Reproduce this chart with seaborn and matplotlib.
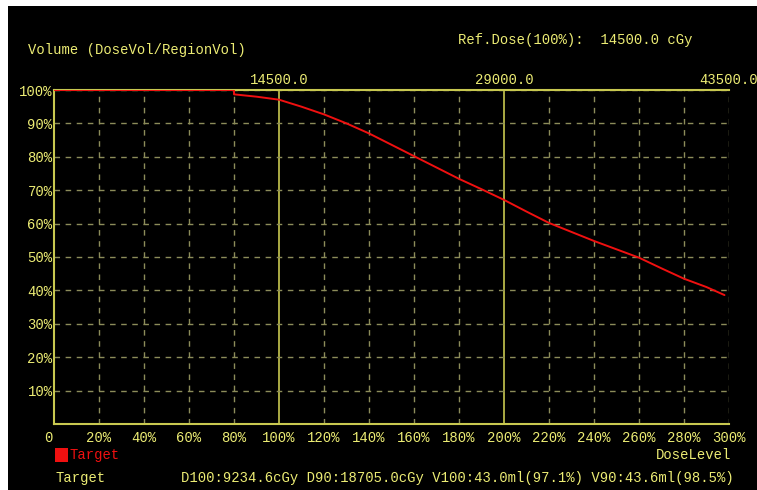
import matplotlib
matplotlib.use("Agg")
import matplotlib.pyplot as plt
from matplotlib.patches import Rectangle
from matplotlib.transforms import ScaledTranslation
import seaborn as sns
import numpy as np

# DVH curve of the target (dose in % of ref dose)
dose_pct = [0, 80, 80, 90, 100, 110, 120, 130, 140, 150, 160, 170, 180, 190,
            200, 210, 220, 230, 240, 250, 260, 270, 280, 290, 298]
volume_pct = [100, 100, 98.7, 98.0, 97.1, 95.0, 92.7, 90.0, 87.0, 83.6, 80.2,
              76.8, 73.4, 70.3, 67.1, 63.6, 60.2, 57.5, 54.8, 52.3, 49.8,
              46.6, 43.5, 41.0, 38.6]

ref_dose = 14500.0
x_ticks = list(range(0, 301, 20))
x_labels = ["0"] + [f"{t}%" for t in x_ticks[1:]]
y_ticks = list(range(10, 101, 10))
y_labels = [f"{t}%" for t in y_ticks]
top_ticks = [100, 200, 300]

stats_text = "D100:9234.6cGy D90:18705.0cGy V100:43.0ml(97.1%) V90:43.6ml(98.5%)"

YELLOW = "#ecec74"
GRID = "#8c8c5a"
SOLID = "#c8c850"
RED = "#f01010"

sns.set_style("dark")
plt.rcParams["font.family"] = ["Liberation Mono", "DejaVu Sans Mono"]

W, H = 757, 490
fig = plt.figure(figsize=(W / 100, H / 100), dpi=100)
fig.patch.set_facecolor("white")
fig.add_artist(Rectangle((8 / W, 0), 1, 1 - 6 / H, transform=fig.transFigure,
                         facecolor="black", edgecolor="none", zorder=0))

ax = fig.add_axes([54 / W, (H - 424) / H, (729 - 54) / W, (424 - 90) / H])
ax.set_facecolor("black")

ax.set_xlim(0, 300)
ax.set_ylim(0, 100)

# dashed grid, solid at 100% and 200%
for t in x_ticks[1:]:
    if t in (100, 200):
        ax.axvline(t, color=SOLID, lw=1.2, zorder=1)
    else:
        ax.axvline(t, color=GRID, lw=1, ls=(0, (4, 4)), zorder=1)
for t in y_ticks:
    ax.axhline(t, color=GRID, lw=1, ls=(0, (4, 4)), zorder=1)

sns.lineplot(x=dose_pct, y=volume_pct, estimator=None, sort=False,
             color=RED, lw=1.4, ax=ax, zorder=3)

ax.set_xticks(x_ticks)
ax.set_xticklabels(x_labels)
ax.set_yticks(y_ticks)
ax.set_yticklabels(y_labels)
ax.tick_params(axis="both", length=0, colors=YELLOW, labelsize=10)
ax.tick_params(axis="x", pad=5)
ax.tick_params(axis="y", pad=1)
ax.grid(False)

# the "0" label sits a little left of the axis corner
lbl0 = ax.get_xticklabels()[0]
lbl0.set_transform(lbl0.get_transform() + ScaledTranslation(-6 / 100, 0, fig.dpi_scale_trans))

for side in ("left", "bottom", "top"):
    ax.spines[side].set_visible(True)
    ax.spines[side].set_color(SOLID)
    ax.spines[side].set_linewidth(1.5)
ax.spines["right"].set_visible(False)

# top axis with absolute dose
secax = ax.secondary_xaxis("top")
secax.set_xticks(top_ticks)
secax.set_xticklabels([f"{t / 100 * ref_dose:.1f}" for t in top_ticks])
secax.tick_params(length=0, colors=YELLOW, labelsize=10, pad=2)
secax.spines["top"].set_visible(False)

def ftext(x, y, s, color=YELLOW, ha="left", size=10):
    fig.text(x / W, 1 - y / H, s, color=color, ha=ha, va="center", fontsize=size)

ftext(28, 50, "Volume (DoseVol/RegionVol)")
ftext(458, 40, "Ref.Dose(100%):  14500.0 cGy")
ftext(731, 455, "DoseLevel", ha="right")
ftext(55, 478, "Target")
ftext(181, 478, stats_text)

# legend patch
fig.add_artist(Rectangle((55 / W, 1 - 462 / H), 13 / W, 14 / H,
                         transform=fig.transFigure, facecolor=RED,
                         edgecolor="none"))
ftext(69, 455, "Target", color=RED)

fig.savefig("out.png", dpi=100, facecolor=fig.get_facecolor())
